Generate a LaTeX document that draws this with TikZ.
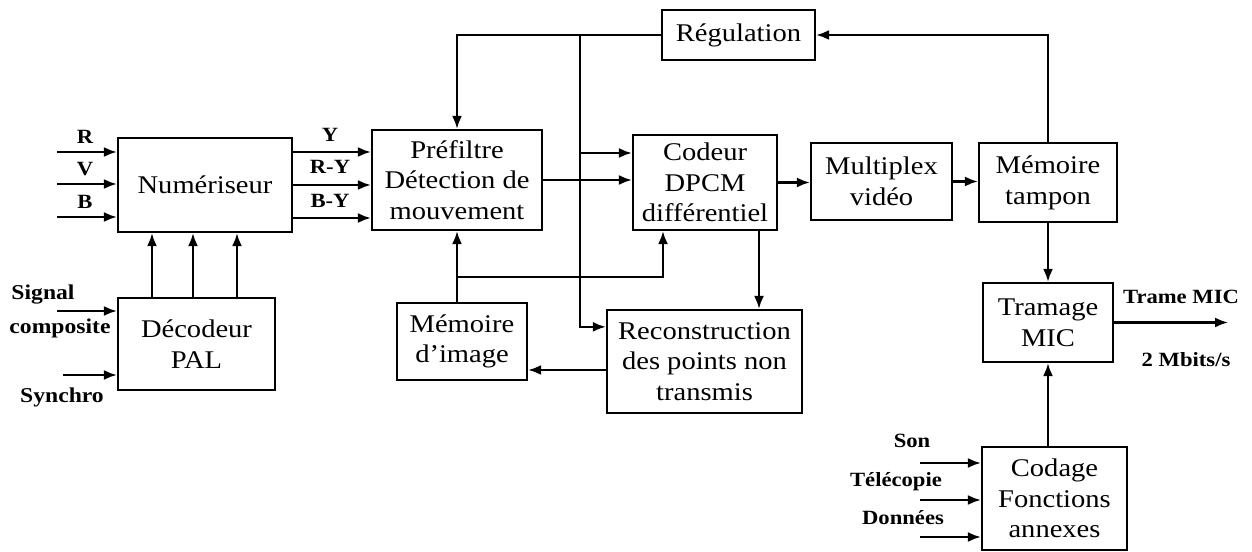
\documentclass[tikz,border=0pt]{standalone}
\usepackage{fontspec}
\setmainfont{Liberation Serif}[FakeStretch=1.12]
\usepackage{tikz}
\usetikzlibrary{arrows.meta,calc,positioning}
\tikzset{
  signal/.style={-{Latex[length=2.6mm,width=2.0mm]}, line width=1.2pt, draw=black},
  block/.style={draw=black, line width=1.3pt, rectangle, align=center, inner sep=1pt,
    font=\fontsize{14.5}{17.5}\selectfont},
  lbl/.style={font=\fontsize{11.5}{13}\selectfont\bfseries, inner sep=1pt}
}

\begin{document}
\begin{tikzpicture}
  \useasboundingbox (0,0) rectangle (25.04,-11.04);

  \node[block, minimum width=3.48cm, minimum height=1.88cm] (num) at (4.10,-3.70) {Numériseur};
  \node[block, minimum width=3.14cm, minimum height=1.84cm] (dec) at (3.93,-6.88) {Décodeur\\PAL};
  \node[block, minimum width=3.40cm, minimum height=2.00cm] (pre) at (9.14,-3.60) {Préfiltre\\Détection de\\mouvement};
  \node[block, minimum width=3.06cm, minimum height=1.00cm] (reg) at (14.77,-0.70) {Régulation};
  \node[block, minimum width=2.88cm, minimum height=1.90cm] (cod) at (14.10,-3.65) {Codeur\\DPCM\\différentiel};
  \node[block, minimum width=2.82cm, minimum height=1.54cm] (mux) at (17.63,-3.63) {Multiplex\\vidéo};
  \node[block, minimum width=2.76cm, minimum height=1.58cm] (buf) at (20.96,-3.65) {Mémoire\\tampon};
  \node[block, minimum width=2.60cm, minimum height=1.58cm] (tram) at (20.96,-6.45) {Tramage\\MIC};
  \node[block, minimum width=2.60cm, minimum height=1.54cm] (mem) at (9.24,-6.83) {Mémoire\\d'image};
  \node[block, minimum width=3.90cm, minimum height=2.06cm] (rec) at (14.09,-7.23) {Reconstruction\\des points non\\transmis};
  \node[block, minimum width=2.90cm, minimum height=2.06cm] (cdg) at (21.09,-9.97) {Codage\\Fonctions\\annexes};

  % entrees du numeriseur
  \coordinate (inR) at (1.14,-3.04);
  \coordinate (inV) at (1.14,-3.68);
  \coordinate (inB) at (1.14,-4.34);
  \draw[signal] (inR) -- (inR -| num.west);
  \draw[signal] (inV) -- (inV -| num.west);
  \draw[signal] (inB) -- (inB -| num.west);
  \node[lbl] (lR) at (1.70,-2.74) {R};
  \node[lbl] (lV) at (1.70,-3.38) {V};
  \node[lbl] (lB) at (1.70,-4.04) {B};

  \foreach \dx in {-0.89,-0.07,0.81}
    \draw[signal] ([xshift=\dx cm]dec.north) -- ([xshift=\dx cm]dec.north |- num.south);

  \coordinate (inS) at (1.14,-6.22);
  \coordinate (inSy) at (1.26,-7.50);
  \draw[signal] (inS) -- (inS -| dec.west);
  \draw[signal] (inSy) -- (inSy -| dec.west);
  \node[lbl, font=\fontsize{12}{14}\selectfont\bfseries] (lsig) at (0.86,-5.90) {Signal};
  \node[lbl, font=\fontsize{12}{14}\selectfont\bfseries] (lcomp) at (1.20,-6.56) {composite};
  \node[lbl, font=\fontsize{12}{14}\selectfont\bfseries] (lsyn) at (1.24,-7.94) {Synchro};

  % sorties Y, R-Y, B-Y
  \coordinate (oY) at (5.84,-3.04);
  \coordinate (oRY) at (5.84,-3.70);
  \coordinate (oBY) at (5.84,-4.36);
  \draw[signal] (oY) -- (oY -| pre.west);
  \draw[signal] (oRY) -- (oRY -| pre.west);
  \draw[signal] (oBY) -- (oBY -| pre.west);
  \node[lbl] (lY) at (6.60,-2.70) {Y};
  \node[lbl] (lRY) at (6.60,-3.34) {R-Y};
  \node[lbl] (lBY) at (6.60,-4.02) {B-Y};

  % regulation
  \draw[signal] (reg.west) -| (pre.north);
  \coordinate (vbus) at (11.60,-0.70);
  \coordinate (t1) at (11.60,-3.06);
  \draw[signal] (vbus) |- ([yshift=-0.36cm]rec.north west);
  \draw[signal] (t1) -- (t1 -| cod.west);
  \draw[signal] (buf.north) |- (reg.east);

  % chaine principale
  \draw[signal] (pre.east) -- (pre.east -| cod.west);
  \draw[signal] (cod.east) -- (cod.east -| mux.west);
  \draw[signal] (mux.east) -- (mux.east -| buf.west);
  \draw[signal] (buf.south) -- (tram.north);
  \coordinate (out) at (24.56,-6.45);
  \draw[signal] (tram.east) -- (out);
  \node[lbl] (ltr) at (23.62,-5.94) {Trame MIC};
  \node[lbl] (lmb) at (23.72,-7.20) {2 Mbits/s};

  % boucle memoire
  \coordinate (j) at (9.14,-5.54);
  \draw[signal] (mem.north -| pre.south) -- (pre.south);
  \draw[signal] (j) -| ([xshift=-0.84cm]cod.south);
  \draw[signal] ([xshift=1.08cm]cod.south) -- ([xshift=1.08cm]cod.south |- rec.north);
  \draw[signal] ([yshift=-0.17cm]rec.west) -- ([yshift=-0.17cm]rec.west -| mem.east);

  % fonctions annexes
  \draw[signal] (tram.south |- cdg.north) -- (tram.south);
  \coordinate (inSon) at (18.40,-9.26);
  \coordinate (inTel) at (18.40,-10.00);
  \coordinate (inDon) at (18.40,-10.74);
  \draw[signal] (inSon) -- (inSon -| cdg.west);
  \draw[signal] (inTel) -- (inTel -| cdg.west);
  \draw[signal] (inDon) -- (inDon -| cdg.west);
  \node[lbl] (lson) at (18.24,-8.82) {Son};
  \node[lbl] (ltel) at (17.92,-9.64) {Télécopie};
  \node[lbl] (ldon) at (18.06,-10.36) {Données};
\end{tikzpicture}
\end{document}
